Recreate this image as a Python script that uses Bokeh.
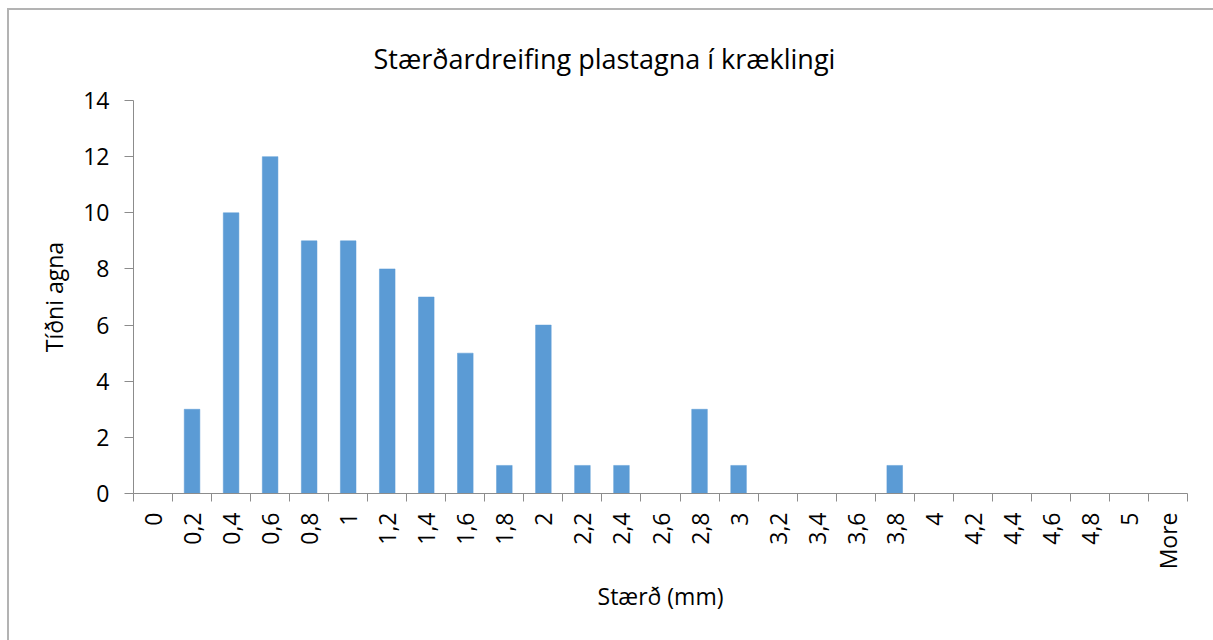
import math
from bokeh.plotting import figure
from bokeh.models import Range1d, FixedTicker, ColumnDataSource
from bokeh.embed import file_html
from bokeh.resources import INLINE

categories = ["0", "0,2", "0,4", "0,6", "0,8", "1", "1,2", "1,4", "1,6", "1,8",
              "2", "2,2", "2,4", "2,6", "2,8", "3", "3,2", "3,4", "3,6", "3,8",
              "4", "4,2", "4,4", "4,6", "4,8", "5", "More"]
counts = [0, 3, 10, 12, 9, 9, 8, 7, 5, 1,
          6, 1, 1, 0, 3, 1, 0, 0, 0, 1,
          0, 0, 0, 0, 0, 0, 0]
y_ticks = [0, 2, 4, 6, 8, 10, 12, 14]

title_text = "Stærðardreifing plastagna í kræklingi"
x_label = "Stærð (mm)"
y_label = "Tíðni agna"

FONT = "Open Sans"
AXIS_COLOR = "#8c8c8c"

n = len(categories)
centers = [i + 0.5 for i in range(n)]
source = ColumnDataSource(dict(x=centers, top=counts, cat=categories))

p = figure(
    frame_width=1054, frame_height=393,
    min_border_left=124, min_border_right=26,
    min_border_top=90, min_border_bottom=147,
    x_range=Range1d(0, n), y_range=Range1d(0, 14),
    output_backend="svg", toolbar_location=None,
    background_fill_color="white", border_fill_color="white",
    styles={"position": "absolute", "left": "7px", "top": "8px",
            "border-left": "2px solid #b3b3b3", "border-top": "2px solid #b3b3b3"},
)
p.outline_line_color = None
p.xgrid.visible = False
p.ygrid.visible = False

p.title.text = title_text
p.title.text_font = FONT
p.title.text_font_size = "27px"
p.title.text_font_style = "normal"
p.title.text_color = "black"
p.title.align = "left"
p.title.offset = 240
p.title.standoff = 48

p.vbar(x="x", top="top", width=0.4, source=source,
       fill_color="#5b9bd5", line_color="#5b9bd5", line_width=0.5)

# x axis: labels at category centres, ticks at category boundaries
xa = p.xaxis[0]
xa.ticker = FixedTicker(ticks=centers, minor_ticks=list(range(n + 1)))
xa.major_label_overrides = {c: lab for c, lab in zip(centers, categories)}
xa.major_label_orientation = math.pi / 2
xa.major_tick_out = 0
xa.major_tick_in = 0
xa.minor_tick_out = 8
xa.minor_tick_in = 0
xa.minor_tick_line_color = AXIS_COLOR
xa.axis_line_color = AXIS_COLOR
xa.major_label_standoff = 11
xa.major_label_text_font = FONT
xa.major_label_text_font_size = "23px"
xa.major_label_text_color = "black"
xa.axis_label = x_label
xa.axis_label_text_font = FONT
xa.axis_label_text_font_size = "23px"
xa.axis_label_text_font_style = "normal"
xa.axis_label_text_color = "black"
xa.axis_label_standoff = 8

ya = p.yaxis[0]
ya.ticker = FixedTicker(ticks=y_ticks)
ya.minor_tick_line_color = None
ya.major_tick_out = 9
ya.major_tick_in = 0
ya.major_tick_line_color = AXIS_COLOR
ya.axis_line_color = AXIS_COLOR
ya.major_label_standoff = 15
ya.major_label_text_font = FONT
ya.major_label_text_font_size = "23px"
ya.major_label_text_color = "black"
ya.axis_label = y_label
ya.axis_label_text_font = FONT
ya.axis_label_text_font_size = "23px"
ya.axis_label_text_font_style = "normal"
ya.axis_label_text_color = "black"
ya.axis_label_standoff = 10

open("out.html", "w").write(file_html(p, INLINE))
